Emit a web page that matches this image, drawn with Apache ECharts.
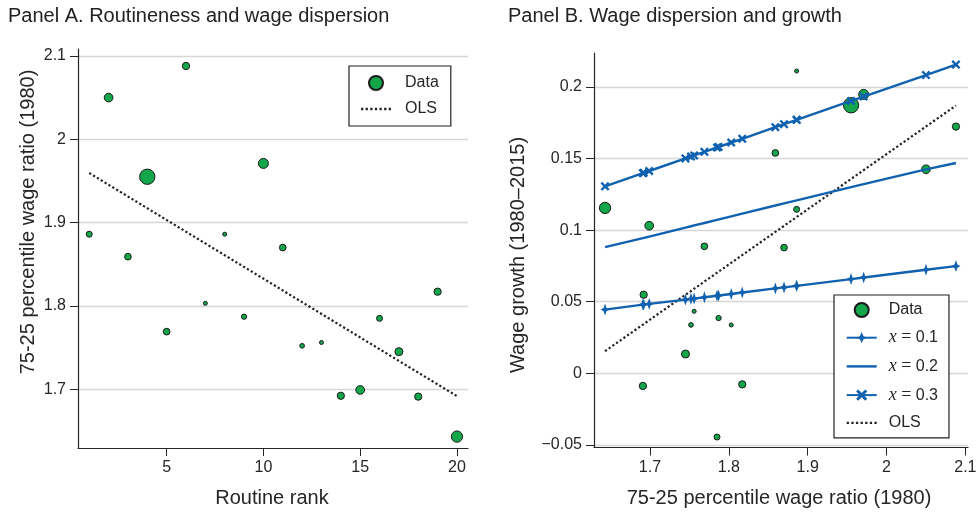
<!DOCTYPE html>
<html><head><meta charset="utf-8">
<script src="https://cdn.jsdelivr.net/npm/echarts@6/dist/echarts.min.js"></script>
<style>html,body{margin:0;padding:0;background:#fff}#c{width:980px;height:512px}</style>
</head><body><div id="c"></div>
<script>
// ---------------- data (one entry per occupation, ordered by routine rank) ----------------
const routineRank = [1,2,3,4,5,6,7,8,9,10,11,12,13,14,15,16,17,18,19,20];
const wageRatio1980 = [1.886,2.050,1.859,1.955,1.769,2.088,1.803,1.886,1.787,1.971,1.870,1.752,1.756,1.692,1.699,1.785,1.745,1.691,1.817,1.643];
const wageGrowth = [0.1145,0.1425,0.1539,0.1872,0.0887,0.1723,0.0338,0.2111,0.0386,0.1948,0.0878,0.0338,0.0433,0.0549,0.1031,-0.0445,0.0135,-0.0088,-0.0077,0.1155];
const employmentWeight = [36,76,45,234,45,53,16,16,28,100,45,22,16,53,76,36,64,53,53,128];
const fitX01 = [0.0611,0.0723,0.0593,0.0658,0.0531,0.0749,0.0554,0.0611,0.0543,0.0669,0.0600,0.0520,0.0522,0.0480,0.0485,0.0542,0.0515,0.0480,0.0564,0.0445];
const fitX02 = [0.1208,0.1424,0.1172,0.1300,0.1050,0.1469,0.1096,0.1208,0.1075,0.1321,0.1187,0.1027,0.1033,0.0945,0.0955,0.1072,0.1018,0.0944,0.1115,0.0881];
const fitX03 = [0.1770,0.2083,0.1719,0.1902,0.1547,0.2156,0.1612,0.1770,0.1581,0.1933,0.1740,0.1514,0.1522,0.1400,0.1413,0.1577,0.1501,0.1398,0.1638,0.1306];
const olsARank = [1, 20];
const olsAValue = [1.9595, 1.6916];
const olsBRatio = [1.643, 2.088];
const olsBValue = [0.0155, 0.1870];
const rankTicks = [5,10,15,20];
const ratioTicksA = [1.7,1.8,1.9,2,2.1];
const ratioTicksB = [1.7,1.8,1.9,2,2.1];
const growthTicks = [-0.05,0,0.05,0.1,0.15,0.2];

// ---------------- styling ----------------
const FONT = "'Liberation Sans', Helvetica, Arial, sans-serif";
const TXT = '#262626';
const BLUE = '#1062b0';
const GREEN = '#14a64b';
const GRID = '#d6d6d6';
const plusStar = 'path://M0,-10 L2.6,-2.6 L8,0 L2.6,2.6 L0,10 L-2.6,2.6 L-8,0 L-2.6,-2.6 Z';
const xMark = 'path://M-10,-6.3 L-6.3,-10 L0,-3.7 L6.3,-10 L10,-6.3 L3.7,0 L10,6.3 L6.3,10 L0,3.7 L-6.3,10 L-10,6.3 L-3.7,0 Z';
const dottedIcon = 'path://M0,0h2.2v2.2h-2.2zM4.5,0h2.2v2.2h-2.2zM9,0h2.2v2.2h-2.2zM13.5,0h2.2v2.2h-2.2zM18,0h2.2v2.2h-2.2zM22.5,0h2.2v2.2h-2.2zM27,0h2.2v2.2h-2.2z';
const lineIcon = 'path://M0,0H30V2.4H0Z';

const fmtNum = v => (v < 0 ? '\u2212' + String(Math.abs(v)) : String(v));

const scatterA = routineRank.map((r, i) => [r, wageRatio1980[i]]);
const scatterB = wageRatio1980.map((x, i) => [x, wageGrowth[i]]);
const order = wageRatio1980.map((x, i) => i).sort((a, b) => wageRatio1980[a] - wageRatio1980[b]);
const fitLine = arr => order.map(i => [wageRatio1980[i], arr[i]]);
const sizeFn = (v, p) => Math.sqrt(employmentWeight[p.dataIndex]);

function valueAxis(gridIndex, min, max, ticks, showSplit) {
  return {
    type: 'value', gridIndex, min, max,
    axisLine: { show: true, onZero: false, lineStyle: { color: TXT, width: 1.2 } },
    axisTick: { show: true, length: 8, inside: false, customValues: ticks, lineStyle: { color: TXT, width: 1 } },
    axisLabel: { customValues: ticks, margin: 12, fontSize: 16, fontFamily: FONT, color: TXT, formatter: fmtNum },
    splitLine: { show: showSplit, lineStyle: { color: GRID, width: 1.3 } },
    minorTick: { show: false }
  };
}

const chart = echarts.init(document.getElementById('c'), null, { renderer: 'canvas' });
chart.setOption({
  animation: false,
  backgroundColor: '#fff',
  grid: [
    { left: 78, top: 49, width: 390, height: 399, containLabel: false },
    { left: 594, top: 53, width: 374, height: 394.5, containLabel: false }
  ],
  xAxis: [
    valueAxis(0, 0.42, 20.57, rankTicks, false),
    valueAxis(1, 1.629, 2.1033, ratioTicksB, false)
  ],
  yAxis: [
    valueAxis(0, 1.6293, 2.1084, ratioTicksA, true),
    valueAxis(1, -0.0518, 0.2237, growthTicks, true)
  ],
  legend: [
    {
      orient: 'vertical', left: 349, top: 66, padding: [9, 12, 9, 12],
      itemWidth: 30, itemHeight: 14, itemGap: 10, selectedMode: false,
      borderColor: '#222', borderWidth: 1.2, backgroundColor: '#fff',
      textStyle: { fontFamily: FONT, fontSize: 16, color: TXT, padding: [0, 0, 0, 9] },
      data: [
        { name: 'Data' },
        { name: 'OLS', icon: dottedIcon, itemStyle: { color: '#222', borderWidth: 0 } }
      ]
    },
    {
      orient: 'vertical', left: 834, top: 295, padding: [7, 11, 7, 11.7],
      itemWidth: 30, itemHeight: 14, itemGap: 10.7, selectedMode: false,
      borderColor: '#222', borderWidth: 1.2, backgroundColor: '#fff',
      formatter: n => n.charAt(0) === 'x' ? '{i|x} {e|=} ' + n.split('= ')[1] : n,
      textStyle: {
        fontFamily: FONT, fontSize: 16, color: TXT, padding: [0, 0, 0, 7],
        rich: {
          i: { fontFamily: "'Liberation Serif', 'DejaVu Serif', serif", fontStyle: 'italic', fontSize: 18, color: TXT },
          e: { fontFamily: "'Liberation Serif', 'DejaVu Serif', serif", fontSize: 18, color: TXT }
        }
      },
      data: [
        { name: 'Data' },
        { name: 'x = 0.1' },
        { name: 'x = 0.2', icon: lineIcon, itemStyle: { color: BLUE, borderWidth: 0 } },
        { name: 'x = 0.3' },
        { name: 'OLS', icon: dottedIcon, itemStyle: { color: '#222', borderWidth: 0 } }
      ]
    }
  ],
  graphic: [
    { type: 'text', x: 8, y: 16, style: { text: 'Panel A. Routineness and wage dispersion', fontSize: 20, fontFamily: FONT, fill: '#222', align: 'left', verticalAlign: 'middle' } },
    { type: 'text', x: 508, y: 16, style: { text: 'Panel B. Wage dispersion and growth', fontSize: 20, fontFamily: FONT, fill: '#222', align: 'left', verticalAlign: 'middle' } },
    { type: 'text', x: 272, y: 498, style: { text: 'Routine rank', fontSize: 20, fontFamily: FONT, fill: TXT, align: 'center', verticalAlign: 'middle' } },
    { type: 'text', x: 779, y: 498, style: { text: '75-25 percentile wage ratio (1980)', fontSize: 20, fontFamily: FONT, fill: TXT, align: 'center', verticalAlign: 'middle' } },
    { type: 'text', x: 28, y: 222, rotation: Math.PI / 2, style: { text: '75-25 percentile wage ratio (1980)', fontSize: 20, fontFamily: FONT, fill: TXT, align: 'center', verticalAlign: 'middle' } },
    { type: 'text', x: 518, y: 255, rotation: Math.PI / 2, style: { text: 'Wage growth (1980\u20132015)', fontSize: 20, fontFamily: FONT, fill: TXT, align: 'center', verticalAlign: 'middle' } }
  ],
  series: [
    { name: 'Data', type: 'scatter', xAxisIndex: 0, yAxisIndex: 0, data: scatterA, symbol: 'circle', symbolSize: sizeFn,
      itemStyle: { color: GREEN, borderColor: '#1a1a1a', borderWidth: 1, opacity: 1 }, z: 2 },
    { name: 'OLS', type: 'line', xAxisIndex: 0, yAxisIndex: 0, data: olsARank.map((r, i) => [r, olsAValue[i]]),
      symbol: 'none', lineStyle: { color: '#222', width: 2.2, type: [2.2, 2.3] }, itemStyle: { color: '#222' }, z: 3 },
    { name: 'Data', type: 'scatter', xAxisIndex: 1, yAxisIndex: 1, data: scatterB, symbol: 'circle', symbolSize: sizeFn,
      itemStyle: { color: GREEN, borderColor: '#1a1a1a', borderWidth: 1, opacity: 1 }, z: 2 },
    { name: 'x = 0.1', type: 'line', xAxisIndex: 1, yAxisIndex: 1, data: fitLine(fitX01), symbol: plusStar, symbolSize: [9, 12],
      showAllSymbol: true, lineStyle: { color: BLUE, width: 2.4 }, itemStyle: { color: BLUE, borderWidth: 0 }, z: 4 },
    { name: 'x = 0.2', type: 'line', xAxisIndex: 1, yAxisIndex: 1, data: fitLine(fitX02), symbol: 'none',
      lineStyle: { color: BLUE, width: 2.4 }, itemStyle: { color: BLUE }, z: 4 },
    { name: 'x = 0.3', type: 'line', xAxisIndex: 1, yAxisIndex: 1, data: fitLine(fitX03), symbol: xMark, symbolSize: 9,
      showAllSymbol: true, lineStyle: { color: BLUE, width: 2.4 }, itemStyle: { color: BLUE, borderWidth: 0 }, z: 4 },
    { name: 'OLS', type: 'line', xAxisIndex: 1, yAxisIndex: 1, data: olsBRatio.map((x, i) => [x, olsBValue[i]]),
      symbol: 'none', lineStyle: { color: '#222', width: 2.2, type: [2.2, 2.3] }, itemStyle: { color: '#222' }, z: 3 }
  ]
});
</script></body></html>
